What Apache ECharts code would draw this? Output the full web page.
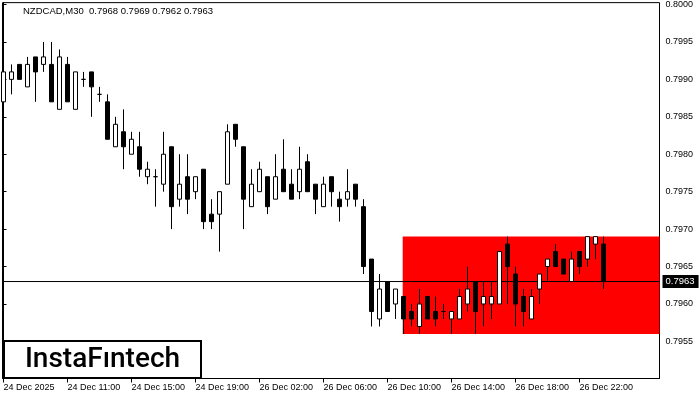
<!DOCTYPE html>
<html>
<head>
<meta charset="utf-8">
<script src="https://cdn.jsdelivr.net/npm/echarts@6/dist/echarts.min.js"></script>
<style>
html,body{margin:0;padding:0;background:#fff;}
#chart{width:700px;height:400px;}
</style>
</head>
<body>
<div id="chart"></div>
<script>
// ---- data ----
var symbol = 'NZDCAD,M30';
var open = [
0.7987,0.7990,0.7992,0.7989,0.7993,0.7992,0.7992,0.7986,0.7992,0.7986,
0.7990,0.7991,0.7988,0.7987,0.7981,0.7983,0.7980,0.7981,0.7977,0.7977,
0.7976,0.7981,0.7974,0.7977,0.7975,0.7978,0.7972,0.7972,0.7976,0.7984,
0.7981,0.7973,0.7975,0.7977,0.7974,0.7978,0.7976,0.7975,0.7979,0.7976,
0.7973,0.7977,0.7974,0.7974,0.7976,0.7973,0.7966,0.7958,0.7963,0.7960,
0.7961,0.7959,0.7957,0.7961,0.7959,0.7959,0.7958,0.7958,0.7960,0.7963,
0.7960,0.7960,0.7960,0.7968,0.7964,0.7961,0.7958,0.7962,0.7965,0.7967,
0.7966,0.7963,0.7967,0.7966,0.7968,0.7968];
var close = [
0.7991,0.7991,0.7990,0.7992,0.7991,0.7993,0.7987,0.7993,0.7987,0.7991,
0.7990,0.7989,0.7988,0.7982,0.7984,0.7981,0.7982,0.7978,0.7978,0.7977,
0.7980,0.7973,0.7976,0.7974,0.7977,0.7971,0.7971,0.7975,0.7983,0.7982,
0.7974,0.7976,0.7978,0.7973,0.7977,0.7975,0.7974,0.7978,0.7975,0.7974,
0.7976,0.7975,0.7973,0.7975,0.7974,0.7965,0.7959,0.7962,0.7959,0.7962,
0.7958,0.7958,0.7960,0.7958,0.7958,0.7959,0.7959,0.7961,0.7962,0.7959,
0.7961,0.7961,0.7967,0.7965,0.7960,0.7959,0.7961,0.7964,0.7966,0.7965,
0.7964,0.7966,0.7965,0.7969,0.7969,0.7963];
var high = [
0.7991,0.7992,0.7992,0.7993,0.7993,0.7995,0.7995,0.7994,0.7993,0.7991,
0.7991,0.7991,0.7989,0.7988,0.7985,0.7986,0.7983,0.7983,0.7979,0.7978,
0.7983,0.7981,0.7980,0.7980,0.7977,0.7978,0.7974,0.7975,0.7984,0.7984,
0.7981,0.7978,0.7979,0.7977,0.7980,0.7982,0.7978,0.7981,0.7980,0.7976,
0.7977,0.7977,0.7975,0.7978,0.7976,0.7974,0.7966,0.7964,0.7963,0.7962,
0.7961,0.7960,0.7962,0.7961,0.7961,0.7960,0.7959,0.7962,0.7965,0.7963,
0.7963,0.7963,0.7967,0.7969,0.7965,0.7962,0.7962,0.7964,0.7966,0.7968,
0.7966,0.7967,0.7967,0.7969,0.7969,0.7969];
var low = [
0.7987,0.7988,0.7990,0.7989,0.7987,0.7991,0.7987,0.7986,0.7987,0.7986,
0.7989,0.7985,0.7987,0.7982,0.7981,0.7978,0.7980,0.7977,0.7976,0.7973,
0.7975,0.7970,0.7973,0.7972,0.7974,0.7970,0.7970,0.7967,0.7976,0.7981,
0.7970,0.7973,0.7975,0.7972,0.7974,0.7975,0.7974,0.7974,0.7975,0.7972,
0.7973,0.7973,0.7971,0.7973,0.7973,0.7964,0.7957,0.7957,0.7959,0.7958,
0.7956,0.7957,0.7956,0.7958,0.7957,0.7958,0.7956,0.7958,0.7959,0.7956,
0.7957,0.7958,0.7960,0.7960,0.7957,0.7957,0.7958,0.7960,0.7963,0.7965,
0.7964,0.7963,0.7964,0.7965,0.7966,0.7962];
var timeTickIndex = [0, 8, 16, 24, 32, 40, 48, 56, 64, 72];
var timeTickLabels = ['24 Dec 2025','24 Dec 11:00','24 Dec 15:00','24 Dec 19:00','26 Dec 02:00',
                      '26 Dec 06:00','26 Dec 10:00','26 Dec 14:00','26 Dec 18:00','26 Dec 22:00'];
var priceTicks = [0.7955, 0.7960, 0.7965, 0.7970, 0.7975, 0.7980, 0.7985, 0.7990, 0.7995, 0.8000];
var zoneStartIndex = 49.9;
var zoneTop = 0.7969;
var zoneBottom = 0.7956;

// ---- build ----
var X_MIN = -0.125, X_MAX = 82;
var n = open.length;
var candles = [];
for (var i = 0; i < n; i++) candles.push([i, open[i], close[i], low[i], high[i]]);
var last = n - 1;
var lastPrice = close[last];
var titleText = symbol + '  ' + [open[last], high[last], low[last], close[last]].map(function (v) { return v.toFixed(4); }).join(' ');

var FONT = 'Liberation Sans';
var chart = echarts.init(document.getElementById('chart'), null, { renderer: 'canvas' });
chart.setOption({
  animation: false,
  backgroundColor: '#ffffff',
  title: {
    text: titleText, left: 18, top: 1,
    textStyle: { fontFamily: FONT, fontSize: 9.5, fontWeight: 'normal', color: '#000' }
  },
  grid: {
    left: 2.5, right: 40.5, top: 2.5, bottom: 21.5,
    show: true, borderColor: '#000', borderWidth: 1, backgroundColor: 'transparent'
  },
  xAxis: {
    type: 'value', min: X_MIN, max: X_MAX,
    axisLine: { show: true, lineStyle: { color: '#000', width: 1 } },
    axisTick: { show: true, customValues: timeTickIndex, length: 4, lineStyle: { color: '#000' } },
    axisLabel: {
      show: true, customValues: timeTickIndex, align: 'left', margin: 5,
      fontFamily: FONT, fontSize: 9, color: '#000',
      formatter: function (v) { var k = timeTickIndex.indexOf(Math.round(v)); return k >= 0 ? timeTickLabels[k] : ''; }
    },
    splitLine: { show: false }
  },
  yAxis: {
    type: 'value', position: 'right', min: 0.795005, max: 0.800025,
    axisLine: { show: true, lineStyle: { color: '#000', width: 1 } },
    axisTick: { show: true, customValues: priceTicks, length: 3, inside: false, lineStyle: { color: '#000' } },
    axisLabel: {
      show: true, customValues: priceTicks, margin: 6,
      fontFamily: FONT, fontSize: 9, color: '#000',
      formatter: function (v) { return v.toFixed(4); }
    },
    splitLine: { show: false }
  },
  series: [
    {
      type: 'line', data: [], z: 1, silent: true,
      markArea: {
        silent: true,
        itemStyle: { color: '#ff0000', opacity: 1, borderWidth: 0 },
        data: [[{ xAxis: zoneStartIndex, yAxis: zoneTop }, { xAxis: X_MAX, yAxis: zoneBottom }]]
      }
    },
    {
      type: 'line', z: 3, silent: true, symbol: 'none',
      data: [[X_MIN, lastPrice], [X_MAX, lastPrice]],
      lineStyle: { color: '#000', width: 1, type: 'solid' },
      endLabel: {
        show: true, distance: 3,
        formatter: function (p) { return Number(p.value[1]).toFixed(4); },
        color: '#fff', backgroundColor: '#000', padding: [2, 4, 1, 3],
        fontFamily: FONT, fontSize: 9.5
      }
    },
    {
      type: 'candlestick', z: 5, data: candles, barWidth: 4,
      itemStyle: {
        color: '#ffffff', color0: '#000000',
        borderColor: '#000000', borderColor0: '#000000', borderColorDoji: '#000000',
        borderWidth: 1
      }
    }
  ],
  graphic: [
    {
      type: 'group', left: 3, top: 340, z: 100,
      children: [
        { type: 'rect', shape: { x: 0, y: 0, width: 197, height: 37 },
          style: { fill: '#fff', stroke: '#000', lineWidth: 2 } },
        { type: 'text', x: 98.5, y: 19,
          style: { text: 'InstaFıntech', fill: '#000', font: '500 28px Roboto, "Liberation Sans"', textAlign: 'center', textVerticalAlign: 'middle' } }
      ]
    }
  ]
});
</script>
</body>
</html>
